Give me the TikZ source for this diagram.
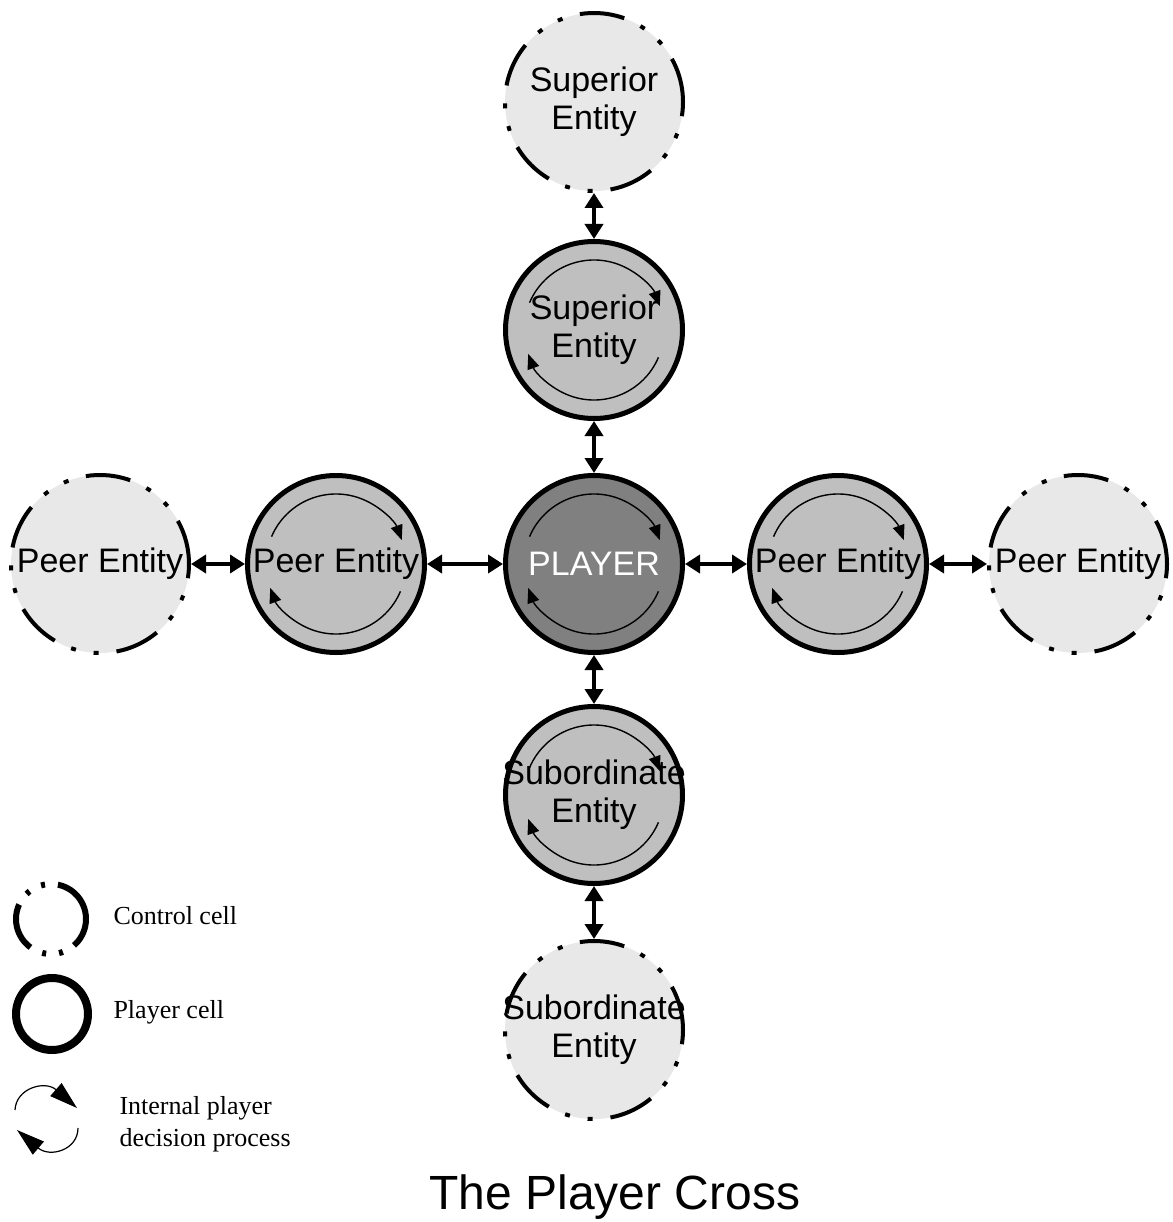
\documentclass[tikz,border=0pt]{standalone}
\usepackage{fontspec}
\setmainfont{Liberation Serif}
\newfontfamily\arialfont{Liberation Sans}
\usetikzlibrary{arrows.meta}
\definecolor{ctrlgray}{gray}{0.91}
\definecolor{cellgray}{gray}{0.75}
\definecolor{playgray}{gray}{0.5}
% decision loop inside a player cell
\newcommand{\decide}[1]{%
  \draw[turn] ([shift={(157:70pt)}]#1.center) arc[start angle=157,end angle=20,radius=70pt];
  \draw[turn] ([shift={(-23:70pt)}]#1.center) arc[start angle=-23,end angle=-160,radius=70pt];}
\begin{document}
\begin{tikzpicture}[x=1pt,y=1pt,
    ctrl/.style={circle,draw,fill=ctrlgray,line width=4pt,minimum size=178pt,inner sep=0pt,
      dash pattern=on 45pt off 18pt on 5pt off 18pt on 5pt off 18pt},
    cell/.style={circle,draw,fill=cellgray,line width=5pt,minimum size=177pt,inner sep=0pt},
    lbl/.style={font=\arialfont\fontsize{34}{38}\selectfont,align=center,inner sep=0pt},
    link/.style={line width=4.5pt,{Triangle[length=15pt,width=18pt]}-{Triangle[length=15pt,width=18pt]}},
    turn/.style={line width=1.4pt,-{Triangle[length=15pt,width=12pt]}},
    keyturn/.style={line width=1.2pt,-{Triangle[length=28pt,width=17pt]}}]
  \useasboundingbox (0,0) rectangle (1172,-1222);

  % cells
  \node[ctrl] (supC) at (594,-102) {};
  \node[cell] (supP) at (594,-330) {};
  \node[cell,fill=playgray] (play) at (594,-564) {};
  \node[cell] (subP) at (594,-795) {};
  \node[ctrl] (subC) at (594,-1030) {};
  \node[cell] (peerL) at (336,-564) {};
  \node[ctrl] (ctrlL) at (100,-564) {};
  \node[cell] (peerR) at (838,-564) {};
  \node[ctrl] (ctrlR) at (1078,-564) {};

  \decide{supP}
  \decide{play}
  \decide{subP}
  \decide{peerL}
  \decide{peerR}

  \node[lbl] (supCt) at (supC) {Superior\\Entity};
  \node[lbl] (supPt) at (supP) {Superior\\Entity};
  \node[lbl,text=white] (playt) at (play) {PLAYER};
  \node[lbl] (subPt) at (subP) {Subordinate\\Entity};
  \node[lbl] (subCt) at (subC) {Subordinate\\Entity};
  \node[lbl] (peerLt) at (peerL) {Peer Entity};
  \node[lbl] (ctrlLt) at (ctrlL) {Peer Entity};
  \node[lbl] (peerRt) at (peerR) {Peer Entity};
  \node[lbl] (ctrlRt) at (ctrlR) {Peer Entity};

  % links
  \draw[link] (supC) -- (supP);
  \draw[link] (supP) -- (play);
  \draw[link] (play) -- (subP);
  \draw[link] (subP) -- (subC);
  \draw[link] (ctrlL) -- (peerL);
  \draw[link] (peerL) -- (play);
  \draw[link] (play) -- (peerR);
  \draw[link] (peerR) -- (ctrlR);

  % legend
  \node[circle,draw,line width=6pt,minimum size=70pt,inner sep=0pt,
    dash pattern=on 48pt off 13pt on 4pt off 13pt on 4pt off 13pt] (keyC) at (51,-919) {};
  \node[anchor=west,font=\fontsize{26}{30}\selectfont] (keyCt) at (110,-916) {Control cell};
  \node[circle,draw,line width=8pt,minimum size=72pt,inner sep=0pt] (keyP) at (52,-1014) {};
  \node[anchor=west,font=\fontsize{26}{30}\selectfont] (keyPt) at (110,-1012) {Player cell};
  \draw[keyturn] (15,-1110) .. controls (16,-1088) and (45,-1080) .. (77,-1108);
  \draw[keyturn] (78,-1128) .. controls (78,-1150) and (50,-1158) .. (17,-1130);
  \node[anchor=west,align=left,font=\fontsize{26}{32}\selectfont] (keyDt) at (116,-1124) {Internal player\\decision process};

  \node[anchor=base,font=\arialfont\fontsize{48}{56}\selectfont] (title) at (615,-1209) {The Player Cross};
\end{tikzpicture}
\end{document}
